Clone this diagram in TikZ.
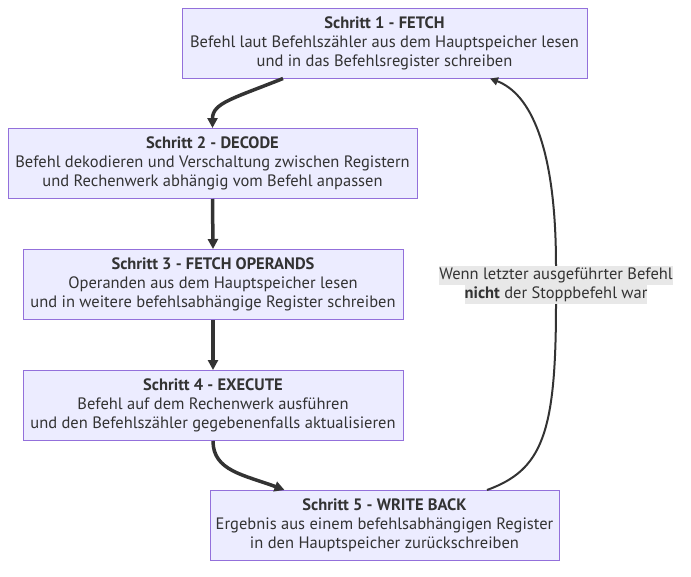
\documentclass[tikz,border=0pt]{standalone}
\usepackage{fontspec}
\setmainfont{PT Sans}
\usetikzlibrary{arrows.meta}
\definecolor{cfill}{HTML}{ECECFF}
\definecolor{cborder}{HTML}{9370DB}
\definecolor{ctext}{HTML}{333333}
\definecolor{cedge}{HTML}{333333}
\definecolor{clabel}{HTML}{E8E8E8}
\setlength{\fboxsep}{0pt}
\newcommand{\lblline}[1]{\colorbox{clabel}{\rule[-5.5pt]{0pt}{19pt}#1}}

\begin{document}
\begin{tikzpicture}[x=1pt, y=-1pt,
  stepbox/.style={draw=cborder, fill=cfill, line width=1pt, minimum height=70pt,
    inner sep=0pt, align=center, text=ctext, font=\fontsize{16.5}{19}\selectfont},
  flow/.style={draw=cedge, line width=3.5pt, -{Triangle[length=10pt,width=10pt]}},
  back/.style={draw=cedge, line width=2pt, -{Triangle[length=8pt,width=8pt]}}]
  \useasboundingbox[fill=white] (0,0) rectangle (691,576);

  % Steps
  \node[stepbox, minimum width=405pt] (fetch) at (384.5,43)
    {\textbf{Schritt 1 - FETCH}\\Befehl laut Befehlszähler aus dem Hauptspeicher lesen\\und in das Befehlsregister schreiben};
  \node[stepbox, minimum width=409pt] (decode) at (212.5,163.5)
    {\textbf{Schritt 2 - DECODE}\\Befehl dekodieren und Verschaltung zwischen Registern\\und Rechenwerk abhängig vom Befehl anpassen};
  \node[stepbox, minimum width=380pt] (operands) at (213,284.5)
    {\textbf{Schritt 3 - FETCH OPERANDS}\\Operanden aus dem Hauptspeicher lesen\\und in weitere befehlsabhängige Register schreiben};
  \node[stepbox, minimum width=380pt] (execute) at (213,405.5)
    {\textbf{Schritt 4 - EXECUTE}\\Befehl auf dem Rechenwerk ausführen\\und den Befehlszähler gegebenenfalls aktualisieren};
  \node[stepbox, minimum width=349pt] (writeback) at (384.5,525.5)
    {\textbf{Schritt 5 - WRITE BACK}\\Ergebnis aus einem befehlsabhängigen Register\\in den Hauptspeicher zurückschreiben};

  % Loop condition
  \node[inner sep=0pt, align=center, text=ctext, font=\fontsize{16.5}{19}\selectfont] (cond) at (556,285)
    {\lblline{Wenn letzter ausgeführter Befehl}\\\lblline{\textbf{nicht} der Stoppbefehl war}};

  % Flow
  \draw[flow] ([xshift=-101.5pt]fetch.south) .. controls +(-50,20) and +(0,-25) .. (decode.north);
  \draw[flow] (decode.south) -- (operands.north);
  \draw[flow] (operands.south) -- (execute.north);
  \draw[flow] (execute.south) .. controls +(0,30) and +(-40,-15) .. ([xshift=-100pt]writeback.north);

  % Back to fetch
  \draw[back] ([xshift=102.5pt]writeback.north) .. controls +(55,-20) and +(0,130) .. (cond.south)
    (cond.north) .. controls +(0,-120) and +(40,15) .. ([xshift=105.5pt]fetch.south);
\end{tikzpicture}
\end{document}
